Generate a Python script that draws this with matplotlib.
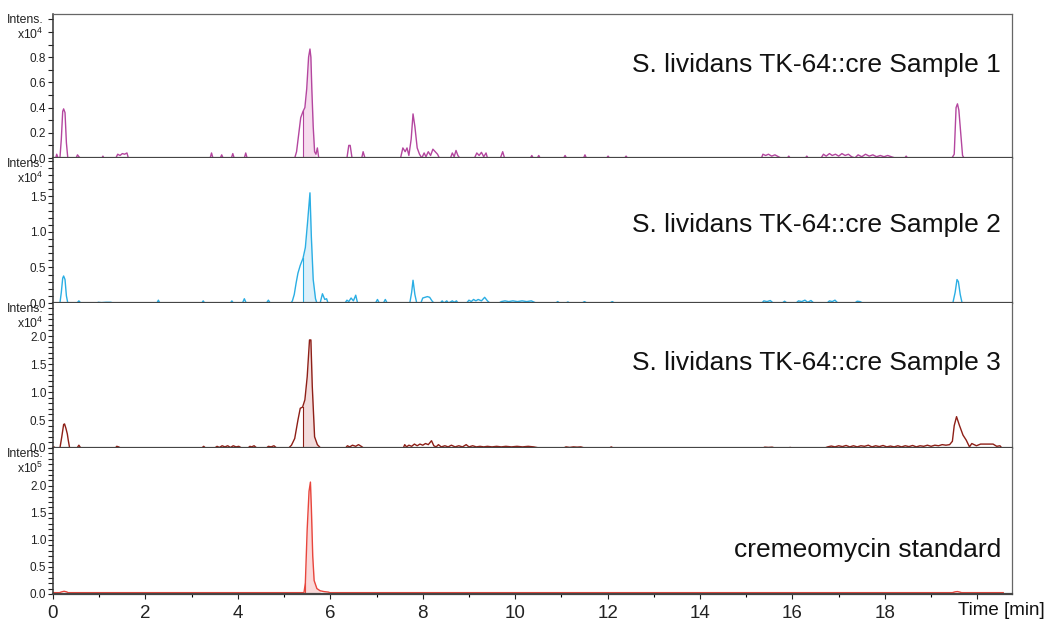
import matplotlib
matplotlib.use("Agg")
import matplotlib.pyplot as plt
import numpy as np
from matplotlib.ticker import FixedLocator, MultipleLocator, FormatStrFormatter

plt.rcParams["font.family"] = ["Liberation Sans", "DejaVu Sans"]
plt.rcParams["mathtext.default"] = "regular"

titles = ["S. lividans TK-64::cre Sample 1", "S. lividans TK-64::cre Sample 2",
          "S. lividans TK-64::cre Sample 3", "cremeomycin standard"]
colors = ["#b4469f", "#2aaee4", "#8e1f17", "#e8453c"]
fills = ["#f6dcee", "#dcf0fa", "#f3dcdc", "#fbd9d9"]
exponents = [4, 4, 4, 5]

# sample 1 (x10^4)
t1 = [0.00, 0.06, 0.08, 0.11, 0.15, 0.18, 0.21, 0.23, 0.26, 0.29, 0.32, 0.50, 0.53, 0.56, 0.59,
      1.06, 1.08, 1.10, 1.36, 1.40, 1.45, 1.50, 1.55, 1.60, 1.63,
      3.40, 3.43, 3.46, 3.62, 3.65, 3.68, 3.86, 3.89, 3.92, 4.14, 4.17, 4.20,
      5.23, 5.27, 5.32, 5.36, 5.41, 5.45, 5.49, 5.53, 5.56, 5.58, 5.60, 5.63, 5.66, 5.69, 5.72, 5.75,
      6.36, 6.40, 6.43, 6.47, 6.68, 6.71, 6.75,
      7.52, 7.57, 7.62, 7.66, 7.70, 7.75, 7.79, 7.83, 7.88, 7.93, 7.98, 8.03, 8.07, 8.12, 8.17,
      8.22, 8.27, 8.32, 8.36, 8.60, 8.64, 8.68, 8.72, 8.76, 8.80,
      9.12, 9.17, 9.22, 9.27, 9.32, 9.37, 9.40, 9.68, 9.73, 9.77,
      10.33, 10.36, 10.39, 10.48, 10.51, 10.54, 11.05, 11.08, 11.11, 11.48, 11.51, 11.54,
      11.98, 12.01, 12.04, 12.37, 12.40, 12.43,
      15.33, 15.36, 15.42, 15.48, 15.55, 15.62, 15.70, 15.75, 15.89, 15.92, 15.95, 16.28, 16.31, 16.34,
      16.62, 16.67, 16.73, 16.80, 16.86, 16.93, 17.00, 17.07, 17.14, 17.21, 17.28, 17.35, 17.42,
      17.50, 17.58, 17.66, 17.74, 17.82, 17.90, 17.98, 18.06, 18.14, 18.22, 18.43, 18.46, 18.49,
      19.45, 19.50, 19.54, 19.57, 19.60, 19.64, 19.68, 19.71, 20.55]
i1 = [0, 0, 0.03, 0, 0, 0.15, 0.37, 0.39, 0.36, 0.12, 0, 0, 0.025, 0.01, 0,
      0, 0.015, 0, 0, 0.03, 0.02, 0.035, 0.03, 0.04, 0,
      0, 0.04, 0, 0, 0.025, 0, 0, 0.035, 0, 0, 0.04, 0,
      0, 0.05, 0.2, 0.32, 0.37, 0.40, 0.55, 0.80, 0.865, 0.80, 0.55, 0.25, 0.05, 0.03, 0.08, 0,
      0, 0.10, 0.10, 0, 0, 0.05, 0,
      0, 0.08, 0.05, 0.08, 0.02, 0.15, 0.35, 0.25, 0.08, 0.03, 0, 0.04, 0.01, 0.05, 0.02,
      0.07, 0.05, 0.03, 0, 0, 0.04, 0.01, 0.06, 0.02, 0,
      0, 0.04, 0.02, 0.045, 0.01, 0.04, 0, 0, 0.05, 0,
      0, 0.02, 0, 0, 0.02, 0, 0, 0.02, 0, 0, 0.025, 0,
      0, 0.015, 0, 0, 0.015, 0,
      0, 0.03, 0.02, 0.03, 0.015, 0.025, 0.01, 0, 0, 0.015, 0, 0, 0.015, 0,
      0, 0.03, 0.015, 0.035, 0.02, 0.03, 0.015, 0.035, 0.02, 0.03, 0.01, 0, 0.025,
      0.01, 0.03, 0.015, 0.025, 0.01, 0.02, 0.01, 0.02, 0.01, 0, 0, 0.015, 0,
      0, 0.03, 0.40, 0.43, 0.38, 0.20, 0.02, 0, 0]

# sample 2 (x10^4)
t2 = [0.00, 0.15, 0.18, 0.21, 0.23, 0.26, 0.29, 0.32, 0.52, 0.56, 0.60,
      0.95, 0.98, 1.05, 1.15, 1.25, 1.30, 2.25, 2.28, 2.31, 3.22, 3.25, 3.28,
      3.84, 3.87, 3.90, 4.10, 4.14, 4.18, 4.62, 4.66, 4.70,
      5.15, 5.18, 5.22, 5.26, 5.30, 5.35, 5.41, 5.46, 5.51, 5.56, 5.59, 5.63, 5.68, 5.71,
      5.78, 5.83, 5.88, 5.92, 5.95, 6.32, 6.36, 6.40, 6.45, 6.50, 6.55, 6.59,
      6.98, 7.02, 7.06, 7.15, 7.19, 7.23, 7.72, 7.76, 7.79, 7.83, 7.87,
      7.96, 8.00, 8.05, 8.10, 8.15, 8.20, 8.24, 8.38, 8.42, 8.46, 8.52, 8.56, 8.64, 8.68, 8.73, 8.76,
      8.95, 9.00, 9.05, 9.10, 9.15, 9.20, 9.27, 9.34, 9.40, 9.45,
      9.65, 9.70, 9.78, 9.86, 9.95, 10.05, 10.15, 10.25, 10.35, 10.45,
      10.88, 10.92, 10.96, 11.10, 11.14, 11.18, 11.45, 11.50, 11.55, 12.05, 12.10, 12.15,
      15.34, 15.38, 15.45, 15.52, 15.58, 15.78, 15.83, 15.88, 16.08, 16.13, 16.20, 16.27, 16.33,
      16.40, 16.46, 16.75, 16.80, 16.86, 16.92, 16.98, 17.35, 17.40, 17.46, 17.52,
      19.47, 19.52, 19.56, 19.59, 19.63, 19.67, 20.55]
i2 = [0, 0, 0.15, 0.35, 0.38, 0.33, 0.10, 0, 0, 0.03, 0,
      0, 0.01, 0.005, 0.01, 0.01, 0, 0, 0.04, 0, 0, 0.03, 0,
      0, 0.03, 0, 0, 0.06, 0, 0, 0.04, 0,
      0, 0.03, 0.12, 0.28, 0.42, 0.53, 0.63, 0.78, 1.15, 1.55, 0.93, 0.33, 0.06, 0,
      0, 0.13, 0.05, 0.06, 0, 0, 0.04, 0.02, 0.07, 0.03, 0.11, 0,
      0, 0.05, 0, 0, 0.05, 0, 0, 0.15, 0.32, 0.12, 0,
      0, 0.07, 0.08, 0.09, 0.08, 0.03, 0, 0, 0.03, 0, 0.03, 0, 0.03, 0.01, 0.03, 0,
      0, 0.04, 0.02, 0.05, 0.03, 0.05, 0.03, 0.08, 0.03, 0,
      0, 0.02, 0.03, 0.02, 0.03, 0.02, 0.03, 0.02, 0.03, 0,
      0, 0.02, 0, 0, 0.015, 0, 0, 0.02, 0, 0, 0.02, 0,
      0, 0.03, 0.02, 0.035, 0, 0, 0.025, 0, 0, 0.03, 0.02, 0.04, 0.01,
      0.035, 0, 0, 0.03, 0.02, 0.04, 0, 0, 0.025, 0.02, 0,
      0, 0.15, 0.33, 0.30, 0.12, 0, 0]

# sample 3 (x10^4)
t3 = [0.00, 0.02, 0.05, 0.15, 0.19, 0.23, 0.25, 0.28, 0.31, 0.33, 0.36, 0.52, 0.56, 0.60,
      1.35, 1.38, 1.42, 1.46, 3.22, 3.26, 3.30,
      3.50, 3.55, 3.60, 3.66, 3.72, 3.78, 3.84, 3.90, 3.96, 4.02, 4.08,
      4.22, 4.26, 4.30, 4.35, 4.41, 4.62, 4.66, 4.72, 4.78, 4.84,
      5.10, 5.16, 5.23, 5.30, 5.35, 5.40, 5.45, 5.50, 5.55, 5.58, 5.61, 5.66, 5.72, 5.79,
      6.33, 6.37, 6.42, 6.48, 6.55, 6.61, 6.67, 6.72,
      7.58, 7.61, 7.65, 7.70, 7.76, 7.82, 7.88, 7.94, 8.00, 8.06, 8.12, 8.19, 8.24, 8.29, 8.34,
      8.40, 8.48, 8.55, 8.62, 8.70, 8.78, 8.86, 8.94, 9.00, 9.08, 9.16, 9.24, 9.32, 9.40, 9.50,
      9.60, 9.70, 9.80, 9.92, 10.04, 10.16, 10.28, 10.40, 10.52,
      11.05, 11.10, 11.18, 11.26, 11.34, 11.42, 11.50, 12.04, 12.08, 12.12,
      15.36, 15.40, 15.48, 15.56, 15.62, 15.90, 15.95, 16.00,
      16.70, 16.76, 16.84, 16.92, 17.00, 17.08, 17.16, 17.24, 17.32, 17.40, 17.48, 17.56, 17.64,
      17.72, 17.80, 17.88, 17.96, 18.04, 18.12, 18.20, 18.28, 18.36, 18.44, 18.52, 18.60, 18.68,
      18.76, 18.84, 18.92, 19.00, 19.08, 19.16, 19.24, 19.32, 19.40, 19.46, 19.50, 19.55, 19.61,
      19.69, 19.76, 19.83, 19.88, 19.98, 20.07, 20.28, 20.34, 20.42, 20.49, 20.53]
i3 = [0, 0.02, 0, 0, 0.2, 0.42, 0.43, 0.35, 0.25, 0.14, 0, 0, 0.05, 0,
      0, 0.03, 0.02, 0, 0, 0.03, 0,
      0, 0.03, 0.01, 0.04, 0.02, 0.04, 0.01, 0.04, 0.02, 0.03, 0,
      0, 0.03, 0.02, 0.04, 0, 0, 0.03, 0.02, 0.04, 0,
      0, 0.05, 0.17, 0.50, 0.71, 0.73, 0.86, 1.27, 1.93, 1.93, 1.10, 0.20, 0.06, 0,
      0, 0.04, 0.02, 0.05, 0.03, 0.06, 0.03, 0,
      0, 0.06, 0.02, 0.05, 0.03, 0.07, 0.04, 0.07, 0.05, 0.08, 0.06, 0.13, 0.04, 0.02, 0.06,
      0.02, 0.04, 0.02, 0.05, 0.02, 0.04, 0.02, 0.06, 0.02, 0.04, 0.02, 0.03, 0.02, 0.03, 0.02,
      0.03, 0.02, 0.03, 0.02, 0.03, 0.02, 0.03, 0.02, 0,
      0, 0.02, 0.01, 0.02, 0.015, 0.02, 0, 0, 0.02, 0,
      0, 0.015, 0.01, 0.015, 0, 0, 0.01, 0,
      0, 0.02, 0.035, 0.02, 0.04, 0.025, 0.045, 0.02, 0.04, 0.02, 0.04, 0.03, 0.05,
      0.02, 0.04, 0.025, 0.045, 0.02, 0.035, 0.02, 0.04, 0.02, 0.04, 0.025, 0.045, 0.02,
      0.04, 0.03, 0.05, 0.03, 0.05, 0.04, 0.06, 0.05, 0.06, 0.12, 0.40, 0.56, 0.41,
      0.23, 0.14, 0.02, 0.08, 0.04, 0.07, 0.07, 0.07, 0.03, 0.04, 0]

# cremeomycin standard (x10^5)
t4 = [0.00, 0.14, 0.19, 0.24, 0.29, 0.33,
      5.43, 5.46, 5.50, 5.54, 5.57, 5.59, 5.62, 5.65, 5.71, 5.78, 5.86, 5.96, 5.99,
      19.46, 19.52, 19.57, 19.62, 19.66, 20.56]
i4 = [0.025, 0.025, 0.04, 0.05, 0.04, 0.025,
      0.025, 0.2, 1.2, 1.9, 2.07, 1.6, 0.7, 0.25, 0.1, 0.06, 0.045, 0.035, 0.025,
      0.025, 0.04, 0.045, 0.035, 0.025, 0.025]

series_t = [t1, t2, t3, t4]
series_i = [i1, i2, i3, i4]
fill_ranges = [(5.41, 5.69), (5.41, 5.71), (5.40, 5.72), (5.46, 5.78)]
ymax = [1.143, 2.04, 2.59, 2.70]
yticks = [[0.0, 0.2, 0.4, 0.6, 0.8], [0.0, 0.5, 1.0, 1.5], [0.0, 0.5, 1.0, 1.5, 2.0],
          [0.0, 0.5, 1.0, 1.5, 2.0]]
title_y = [0.60, 0.49, 0.535, 0.25]
xticks = [0, 2, 4, 6, 8, 10, 12, 14, 16, 18, 20]

fig = plt.figure(figsize=(10.49, 6.26), dpi=100)
left, right = 53 / 1049, 1012 / 1049
edges = [14, 158, 303, 448, 594]

for k in range(4):
    top_px, bottom_px = edges[k], edges[k + 1]
    ax = fig.add_axes([left, 1 - bottom_px / 626, right - left, (bottom_px - top_px) / 626])
    t = np.array(series_t[k])
    y = np.array(series_i[k])
    a, b = fill_ranges[k]
    mask = (t >= a) & (t <= b)
    ax.fill_between(t[mask], 0, y[mask], color=fills[k], lw=0)
    ax.plot([a, a], [0, np.interp(a, t, y)], color=colors[k], lw=0.8)
    ax.plot(t, y, color=colors[k], lw=1.0)

    ax.set_xlim(0, 20.75)
    ax.set_ylim(0, ymax[k])
    ax.yaxis.set_major_locator(FixedLocator(yticks[k]))
    ax.yaxis.set_minor_locator(MultipleLocator(0.1))
    ax.yaxis.set_major_formatter(FormatStrFormatter("%.1f"))
    ax.tick_params(axis="y", which="both", direction="out", length=3.6, width=0.8,
                   labelsize=8.5, pad=1.2, colors="#222222")

    for side in ["top", "right"]:
        ax.spines[side].set_color("#666666")
        ax.spines[side].set_linewidth(0.9)
    ax.spines["left"].set_color("#333333")
    ax.spines["left"].set_linewidth(1.1)
    ax.spines["bottom"].set_color("#454545")
    ax.spines["bottom"].set_linewidth(1.6)
    if k > 0:
        ax.spines["top"].set_visible(False)

    ax.annotate("Intens.", xy=(0, 1), xycoords="axes fraction", xytext=(-6.5, -4.5),
                textcoords="offset points", ha="right", va="center", fontsize=8.8, color="#222222")
    ax.annotate("x10$^{%d}$" % exponents[k], xy=(0, 1), xycoords="axes fraction",
                xytext=(-7, -15), textcoords="offset points", ha="right", va="center",
                fontsize=8.8, color="#222222")
    ax.text(0.9885, title_y[k], titles[k], transform=ax.transAxes, ha="right", va="baseline",
            fontsize=19, color="#111111")

    if k < 3:
        ax.tick_params(axis="x", which="both", bottom=False, labelbottom=False)
    else:
        ax.xaxis.set_major_locator(FixedLocator(xticks))
        ax.xaxis.set_minor_locator(MultipleLocator(1))
        ax.set_xticklabels([str(v) for v in xticks[:-1]] + [""])
        ax.tick_params(axis="x", which="major", direction="out", length=3.8, width=0.8,
                       labelsize=13.5, pad=4, colors="#222222")
        ax.tick_params(axis="x", which="minor", direction="out", length=2.3, width=0.8)
        ax.text(20.51, -0.055, "Time [min]", transform=ax.get_xaxis_transform(), ha="center",
                va="top", fontsize=13.5, color="#111111")

fig.savefig("out.png", dpi=100)
